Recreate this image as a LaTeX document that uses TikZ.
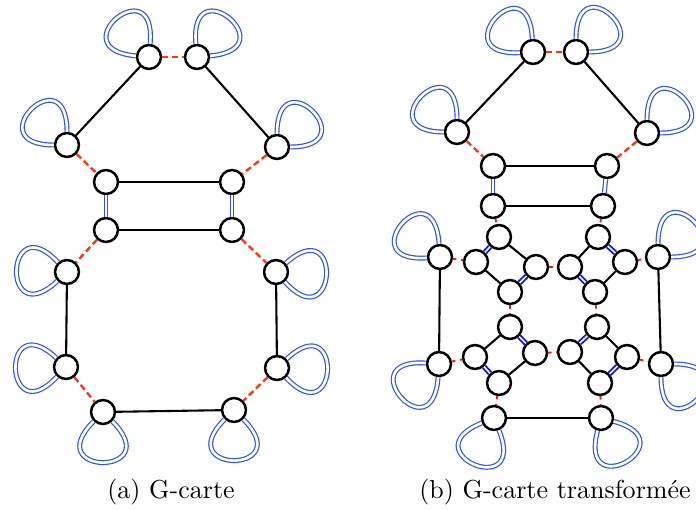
\documentclass[tikz,border=0pt]{standalone}
\usepackage{fontspec}
\usepackage{xcolor}
\definecolor{brinBlue}{HTML}{2B50F5}
\definecolor{celluleBlue}{HTML}{0A10F0}
\definecolor{brinRed}{HTML}{FF3512}
\definecolor{petitRed}{HTML}{FF1010}

\begin{document}
\begin{tikzpicture}[
  x=0.3846pt, y=0.3846pt,
  sommet/.style={circle, draw=black, line width=0.95pt, fill=white, minimum size=9.2pt, inner sep=0pt},
  alphaun/.style={draw=black, line width=0.8pt},
  alphadeux/.style={draw=brinBlue, line width=0.45pt, double=white, double distance=1pt},
  alphacell/.style={draw=celluleBlue, line width=0.7pt, double=white, double distance=0.6pt},
  alphazero/.style={draw=brinRed, line width=0.9pt, dash pattern=on 2.4pt off 1.4pt},
  alphapetit/.style={draw=petitRed, line width=0.7pt, dash pattern=on 1.3pt off 1.8pt}
]
\useasboundingbox (0,0) rectangle (696,509);
\newcommand{\boucle}[2]{%
  \pgfmathsetmacro{\bout}{#2+45}\pgfmathsetmacro{\bin}{#2-45}%
  \draw[alphadeux] (#1) .. controls +(\bout:35pt) and +(\bin:35pt) .. (#1);
}

% (a) G-carte
\node[sommet] (a1) at (149,452) {};
\node[sommet] (a2) at (197,452) {};
\node[sommet] (a3) at (67,364) {};
\node[sommet] (a4) at (277,362) {};
\node[sommet] (a5) at (106,327) {};
\node[sommet] (a6) at (232,327) {};
\node[sommet] (a7) at (106,279) {};
\node[sommet] (a8) at (232,279) {};
\node[sommet] (a9) at (67,237) {};
\node[sommet] (a10) at (276,237) {};
\node[sommet] (a11) at (66,142) {};
\node[sommet] (a12) at (277,141) {};
\node[sommet] (a13) at (103,97) {};
\node[sommet] (a14) at (234,99) {};

\foreach \u/\v in {a1/a3, a2/a4, a5/a6, a7/a8, a9/a11, a10/a12, a13/a14}
  \draw[alphaun] (\u) -- (\v);
\foreach \u/\v in {a1/a2, a3/a5, a4/a6, a7/a9, a8/a10, a11/a13, a12/a14}
  \draw[alphazero] (\u) -- (\v);
\draw[alphadeux] (a5) -- (a7);
\draw[alphadeux] (a6) -- (a8);
\boucle{a1}{130}
\boucle{a2}{50}
\boucle{a3}{135}
\boucle{a4}{45}
\boucle{a9}{178}
\boucle{a10}{-3}
\boucle{a11}{182}
\boucle{a12}{-2}
\boucle{a13}{270}
\boucle{a14}{270}

% (b) G-carte transformee
\node[sommet] (b1) at (533,457) {};
\node[sommet] (b2) at (576,457) {};
\node[sommet] (b3) at (457,377) {};
\node[sommet] (b4) at (647,376) {};
\node[sommet] (b5) at (493,343) {};
\node[sommet] (b6) at (607,343) {};
\node[sommet] (b7) at (493,303) {};
\node[sommet] (b8) at (603,303) {};
\node[sommet] (b9) at (440,252) {};
\node[sommet] (b10) at (658,252) {};
\node[sommet] (b11) at (439,145) {};
\node[sommet] (b12) at (661,145) {};
\node[sommet] (b13) at (494,91) {};
\node[sommet] (b14) at (601,91) {};

\node[sommet] (c1t) at (499,272) {};
\node[sommet] (c1l) at (476,247) {};
\node[sommet] (c1r) at (536,242) {};
\node[sommet] (c1b) at (510,217) {};
\node[sommet] (c2t) at (598,272) {};
\node[sommet] (c2l) at (570,242) {};
\node[sommet] (c2r) at (625,247) {};
\node[sommet] (c2b) at (595,217) {};
\node[sommet] (c3t) at (510,182) {};
\node[sommet] (c3l) at (475,152) {};
\node[sommet] (c3r) at (535,156) {};
\node[sommet] (c3b) at (499,126) {};
\node[sommet] (c4t) at (597,182) {};
\node[sommet] (c4l) at (570,157) {};
\node[sommet] (c4r) at (627,152) {};
\node[sommet] (c4b) at (600,126) {};

\foreach \u/\v in {b1/b3, b2/b4, b5/b6, b7/b8, b9/b11, b10/b12, b13/b14,
    c1t/c1r, c1l/c1b, c2t/c2l, c2r/c2b, c3t/c3l, c3r/c3b, c4t/c4r, c4l/c4b}
  \draw[alphaun] (\u) -- (\v);
\foreach \u/\v in {b1/b2, b3/b5, b4/b6}
  \draw[alphazero] (\u) -- (\v);
\foreach \u/\v in {b7/c1t, b8/c2t, b9/c1l, c1r/c2l, c2r/b10, c1b/c3t,
    c2b/c4t, b11/c3l, c3r/c4l, c4r/b12, c3b/b13, c4b/b14}
  \draw[alphapetit] (\u) -- (\v);
\draw[alphadeux] (b5) -- (b7);
\draw[alphadeux] (b6) -- (b8);
\foreach \u/\v in {c1t/c1l, c1r/c1b, c2t/c2r, c2l/c2b, c3t/c3r, c3l/c3b, c4t/c4l, c4r/c4b}
  \draw[alphacell] (\u) -- (\v);
\boucle{b1}{138}
\boucle{b2}{45}
\boucle{b3}{135}
\boucle{b4}{45}
\boucle{b9}{139}
\boucle{b10}{45}
\boucle{b11}{221}
\boucle{b12}{315}
\boucle{b13}{247}
\boucle{b14}{300}

\node (legendeA) at (171,17) {(a) G-carte};
\node (legendeB) at (555,17) {(b) G-carte transformée};
\end{tikzpicture}
\end{document}
